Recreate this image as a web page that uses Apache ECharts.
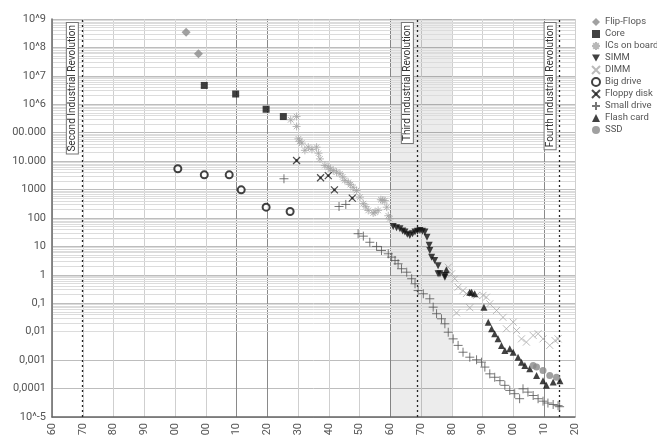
<!DOCTYPE html>
<html><head><meta charset="utf-8">
<script src="https://cdn.jsdelivr.net/npm/echarts@6/dist/echarts.min.js"></script>
<style>html,body{margin:0;padding:0;background:#fff}#c{width:657px;height:440px}</style>
</head><body><div id="c"></div>
<script>
// Tick labels (x ticks are at positions 0..17)
const xTickLabels = ['60','70','80','90','00','00','10','20','30','40','50','60','70','80','90','00','10','20'];
const yTickLabels = ['10^-5','0,0001','0,001','0,01','0,1','1','10','100','1000','10.000','00.000','10^6','10^7','10^8','10^9'];

// Annotations
const revolutionNames = ['Second Industrial Revolution','Third Industrial Revolution','Fourth Industrial Revolution'];
const revolutionX = [0.97, 11.86, 16.5];
const shadedBand = [11, 13];

// Series data: [x position on tick scale, value]
const flipFlops = [[4.36,3.4e8],[4.76,6.0e7]];
const core = [[4.95,4.6e6],[5.97,2.3e6],[6.96,6.7e5],[7.52,3.7e5]];
const icsOnBoard = [[7.76,2.85e5],[7.95,3.7e5],[7.95,1.66e5],[8.01,6.1e4],[8.05,5.0e4],[8.12,4.3e4],[8.22,2.4e4],[8.33,3.1e4],[8.45,2.6e4],[8.6,3.1e4],[8.66,1.9e4],[8.71,1.2e4],[8.87,7000],[8.98,6100],[9.05,5200],[9.14,4700],[9.25,4100],[9.36,3600],[9.45,2800],[9.52,2100],[9.63,1800],[9.7,1500],[9.79,1200],[9.9,930],[10.01,540],[10.12,320],[10.2,250],[10.28,185],[10.44,150],[10.5,160],[10.6,185],[10.69,440],[10.75,420],[10.82,410],[10.88,240],[10.93,120],[10.98,94]];
const simm = [[11.09,50],[11.2,45],[11.31,42],[11.4,35],[11.47,32],[11.55,27],[11.63,24],[11.72,28],[11.8,32],[11.88,34],[11.96,36],[12.04,34],[12.12,32],[12.19,21],[12.26,11],[12.28,7.2],[12.34,4.2],[12.44,3.2],[12.55,2.1],[12.55,1.1],[12.61,1.1],[12.77,0.95],[12.77,0.83]];
const dimm = [[12.88,1.86],[12.99,1.09],[13.09,0.73],[13.2,0.37],[13.36,0.28],[13.47,0.22],[13.8,0.19],[14.01,0.19],[14.12,0.164],[14.23,0.096],[14.45,0.056],[14.66,0.032],[14.77,0.0127],[14.99,0.0216],[15.1,0.011],[15.26,0.0056],[15.42,0.0043],[15.64,0.0074],[15.8,0.0085],[15.96,0.0056],[16.18,0.0033],[16.35,0.0049],[16.45,0.0056],[13.15,0.046],[13.58,0.07]];
const bigDrive = [[4.09,5400],[4.95,3300],[5.76,3300],[6.15,980],[6.96,240],[7.74,170]];
const floppyDisk = [[7.95,1.05e4],[8.73,2600],[8.98,3100],[9.18,980],[9.76,500]];
const smallDrive = [[7.54,2400],[9.33,254],[9.55,300],[9.95,28],[10.12,23],[10.33,14],[10.55,10],[10.71,7.2],[10.93,5.5],[11.04,4.2],[11.15,3.2],[11.25,2.45],[11.36,1.64],[11.53,1.24],[11.69,0.73],[11.8,0.485],[11.9,0.28],[12.07,0.216],[12.28,0.144],[12.39,0.073],[12.5,0.043],[12.66,0.0285],[12.77,0.019],[12.88,0.0096],[13.04,0.0056],[13.2,0.0033],[13.36,0.0019],[13.58,0.00127],[13.8,0.00103],[13.96,0.00085],[14.07,0.00057],[14.23,0.00033],[14.39,0.00025],[14.56,0.00019],[14.72,0.00013],[14.88,8.6e-5],[15.04,6.6e-5],[15.2,4.4e-5],[15.31,9.8e-5],[15.47,7.5e-5],[15.64,5.7e-5],[15.8,4.4e-5],[15.96,3.6e-5],[16.12,3.1e-5],[16.29,2.75e-5],[16.45,2.5e-5],[16.5,2.3e-5]];
const flashCard = [[12.82,1.51],[13.58,0.245],[13.64,0.245],[13.74,0.216],[14.04,0.073],[14.18,0.0216],[14.29,0.0127],[14.39,0.0085],[14.5,0.0056],[14.61,0.0033],[14.72,0.0022],[14.88,0.0025],[14.99,0.0019],[15.15,0.00127],[15.26,0.00085],[15.37,0.00065],[15.53,0.0005],[15.75,0.00029],[15.96,0.00019],[16.07,0.00013],[16.29,0.00017],[16.51,0.00019]];
const ssd = [[15.64,0.00065],[15.75,0.00057],[15.96,0.00043],[16.18,0.00029],[16.4,0.00025]];

const FONT = 'Roboto, "Liberation Sans", sans-serif';
const asterisk = 'path://M5 0L5 10M0 5L10 5M1.5 1.5L8.5 8.5M8.5 1.5L1.5 8.5';
const cross = 'path://M0 0L10 10M10 0L0 10';
const plus = 'path://M5 0L5 10M0 5L10 5';
const crossBox = 'path://M0 0L10 10M10 0L0 10M3.8 3.8H6.2V6.2H3.8Z';
const downTri = 'path://M0 0L10 0L5 9Z';

// minor gridlines at 2..9 x 10^k
const minorLines = [];
for (let e = -5; e < 9; e++) for (let m = 2; m <= 9; m++) minorLines.push({ yAxis: m * Math.pow(10, e) });

const vColors = xTickLabels.map((_, i) => [6, 7, 11, 16].indexOf(i) >= 0 ? '#8a8a8a' : '#cfcfcf');

const chart = echarts.init(document.getElementById('c'));
chart.setOption({
  animation: false,
  backgroundColor: '#fff',
  textStyle: { fontFamily: FONT },
  grid: { left: 52, right: 82, top: 19, bottom: 23 },
  legend: {
    orient: 'vertical', left: 591, top: 17,
    itemWidth: 8, itemHeight: 8, itemGap: 2, padding: 0,
    textStyle: { fontSize: 9.5, color: '#555', fontFamily: FONT },
    data: ['Flip-Flops','Core','ICs on board','SIMM','DIMM','Big drive','Floppy disk','Small drive','Flash card','SSD']
  },
  xAxis: {
    type: 'value', min: 0, max: 17, interval: 1,
    axisLine: { show: true, lineStyle: { color: '#666', width: 1.5 } },
    axisTick: { show: false },
    axisLabel: { rotate: 90, margin: 6, fontSize: 11, color: '#555', fontFamily: FONT,
      formatter: v => xTickLabels[Math.round(v)] },
    splitLine: { show: true, lineStyle: { color: vColors, width: 1 } }
  },
  yAxis: {
    type: 'log', logBase: 10, min: 1e-5, max: 1e9, interval: 1, splitNumber: 14,
    axisLine: { show: true, lineStyle: { color: '#666', width: 1.5 } },
    axisTick: { show: false },
    axisLabel: { margin: 6, fontSize: 11, color: '#555', fontFamily: FONT, showMinLabel: true, showMaxLabel: true,
      formatter: v => yTickLabels[Math.round(Math.log10(v)) + 5] },
    splitLine: { show: true, lineStyle: { color: '#bdbdbd', width: 1 } }
  },
  series: [
    { name: 'Flip-Flops', type: 'scatter', data: flipFlops, symbol: 'diamond', symbolSize: 9,
      itemStyle: { color: '#8a8a8a' }, z: 3,
      markArea: { silent: true, z: 0, itemStyle: { color: 'rgba(0,0,0,0.075)' },
        data: [[{ xAxis: shadedBand[0] }, { xAxis: shadedBand[1] }]] },
      markLine: { silent: true, symbol: 'none', animation: false, z: 0,
        lineStyle: { color: '#dcdcdc', width: 1, type: 'solid' },
        label: { show: false }, data: minorLines } },
    { name: 'Core', type: 'scatter', data: core, symbol: 'rect', symbolSize: 7,
      itemStyle: { color: '#111' },
      markLine: { silent: true, symbol: 'none', animation: false, z: 1,
        lineStyle: { color: '#222', width: 1.3, type: [2, 3] },
        label: { show: true, position: 'insideEndTop', distance: 4, formatter: p => p.name,
          fontSize: 10, color: '#333', fontFamily: FONT, backgroundColor: '#fff',
          borderColor: '#777', borderWidth: 1, padding: [1, 2, 0, 2] },
        data: revolutionX.map((x, i) => ({ xAxis: x, name: revolutionNames[i] })) } },
    { name: 'ICs on board', type: 'scatter', data: icsOnBoard, symbol: asterisk, symbolSize: 8,
      itemStyle: { color: '#a6a6a6', borderColor: '#a6a6a6', borderWidth: 1 } },
    { name: 'SIMM', type: 'scatter', data: simm, symbol: downTri, symbolSize: 7,
      itemStyle: { color: '#111' } },
    { name: 'DIMM', type: 'scatter', data: dimm, symbol: cross, symbolSize: 7,
      itemStyle: { color: '#aaa', borderColor: '#aaa', borderWidth: 1 } },
    { name: 'Big drive', type: 'scatter', data: bigDrive, symbol: 'emptyCircle', symbolSize: 7,
      itemStyle: { color: '#111', borderColor: '#111', borderWidth: 1 } },
    { name: 'Floppy disk', type: 'scatter', data: floppyDisk, symbol: crossBox, symbolSize: 7,
      itemStyle: { color: '#222', borderColor: '#222', borderWidth: 1.2 } },
    { name: 'Small drive', type: 'scatter', data: smallDrive, symbol: plus, symbolSize: 9,
      itemStyle: { color: '#555', borderColor: '#555', borderWidth: 1 } },
    { name: 'Flash card', type: 'scatter', data: flashCard, symbol: 'triangle', symbolSize: 7,
      itemStyle: { color: '#111' } },
    { name: 'SSD', type: 'scatter', data: ssd, symbol: 'circle', symbolSize: 7,
      itemStyle: { color: '#888' } }
  ]
});
</script></body></html>
